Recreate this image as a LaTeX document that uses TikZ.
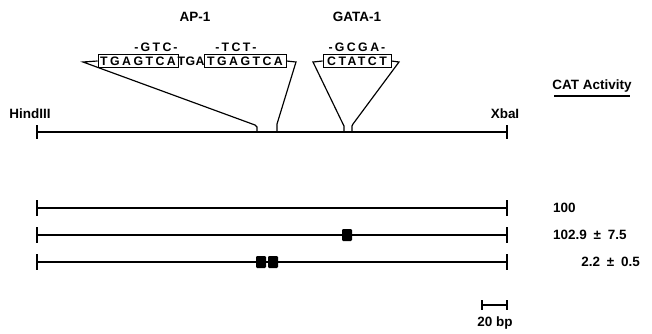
\documentclass[tikz,border=0pt]{standalone}
\usepackage{fontspec}
\setmainfont{Liberation Sans}
\newfontfamily\seqfont[LetterSpace=20]{Liberation Sans}
\newfontfamily\seqtight[LetterSpace=4]{Liberation Sans}
\tikzset{
  lbl/.style={inner sep=0pt, font=\bfseries\fontsize{11.5}{13}\selectfont},
  seqbox/.style={draw, line width=.8pt, inner sep=0pt, minimum height=.38cm, font=\seqfont\bfseries\fontsize{10.5}{12}\selectfont},
  seqtxt/.style={inner sep=0pt, font=\seqtight\bfseries\fontsize{10.5}{12}\selectfont},
  mut/.style={inner sep=0pt, font=\seqfont\bfseries\fontsize{10.5}{12}\selectfont},
  dna/.style={line width=1.2pt},
  site/.style={fill=black, rounded corners=1pt, minimum width=.3cm, minimum height=.36cm, inner sep=0pt}
}
\begin{document}
\begin{tikzpicture}[x=.03cm, y=-.03cm]
        \useasboundingbox (0,0) rectangle (652,333);
        % factor names
        \node[lbl] (ap) at (195,17) {AP-1};
        \node[lbl] (gata) at (357,17) {GATA-1};
        % sequences
        \node[seqbox, minimum width=2.4cm] (boxa) at (138,61) {TGAGTCA};
        \node[seqbox, minimum width=2.46cm] (boxb) at (245,61) {TGAGTCA};
        \path (boxa.east) -- node[seqtxt] (tga) {TGA} (boxb.west);
        \node[seqbox, minimum width=2.04cm] (boxc) at (357,61) {CTATCT};
        \node[mut] (mga) at (156,47) {-\,GTC\,-};
        \node[mut] (mgb) at (236,47) {-\,TCT\,-};
        \node[mut] (mgc) at (357,47) {-\,GCGA\,-};
        % map
        \coordinate (hind) at (37,132);
        \coordinate (xba) at (507,132);
        \draw[dna] (hind) -- (xba);
        \draw[dna] (37,125) -- (37,139);
        \draw[dna] (507,125) -- (507,139);
        \node[lbl] (hlbl) at (30,114) {HindIII};
        \node[lbl] (xlbl) at (505,114) {XbaI};
        \draw[line width=1pt] (boxa.west) -- (83,62) -- (255,125) -- (257,127) -- (257,132);
        \draw[line width=1pt] (boxb.east) -- (296,62) -- (277,124) -- (277,132);
        \draw[line width=1pt] (boxc.west) -- (313,62) -- (343,124) -- (344,126) -- (344,132);
        \draw[line width=1pt] (boxc.east) -- (399,62) -- (353,124) -- (352,126) -- (352,132);
        % constructs
        \node[lbl, anchor=south] (cat) at (592,93) {CAT Activity};
        \draw[line width=1pt] (554,96) -- (630,96);
        \foreach \y/\n in {208/a,235/b,262/c}{
          \coordinate (l\n) at (37,\y);
          \coordinate (r\n) at (507,\y);
          \draw[dna] (l\n) -- (r\n);
          \draw[dna] (37,\y-8) -- (37,\y+8);
          \draw[dna] (507,\y-8) -- (507,\y+8);
        }
        \node[site] (sb) at (347,235) {};
        \node[site] (sc) at (261,262) {};
        \node[site] (sd) at (273,262) {};
        \node[lbl, anchor=west] (va) at (553,208) {100};
        \node[lbl, anchor=west] (vb) at (553,235) {102.9\enspace±\enspace7.5};
        \node[lbl, anchor=east] (vc) at (640,262) {2.2\enspace±\enspace0.5};
        % scale bar
        \coordinate (sl) at (482,305);
        \coordinate (sr) at (507,305);
        \draw[line width=1.2pt] (sl) -- (sr);
        \draw[line width=1.2pt] (482,300) -- (482,310);
        \draw[line width=1.2pt] (507,300) -- (507,310);
        \node[lbl] (bp) at (495,323) {20 bp};
      \end{tikzpicture}
\end{document}
